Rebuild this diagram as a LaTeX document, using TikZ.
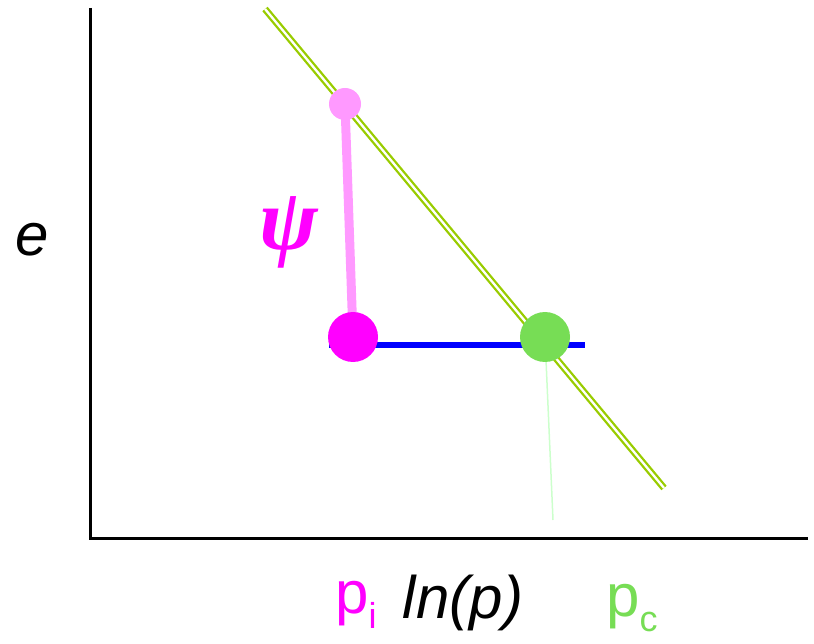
\documentclass[tikz,border=0pt]{standalone}
\usepackage{fontspec}
\setmainfont{Liberation Sans}
\newfontfamily\psifont{Liberation Serif}
\usetikzlibrary{backgrounds}

\definecolor{palepink}{HTML}{FF99FF}
\definecolor{ptmagenta}{HTML}{FF00FF}
\definecolor{dotgreen}{HTML}{77DD55}
\definecolor{linegreen}{HTML}{99CC00}
\definecolor{faintgreen}{HTML}{CCFFCC}

\begin{document}
\begin{tikzpicture}[x=1pt, y=-1pt,
    dot/.style={circle, inner sep=0pt, minimum size=#1},
    big/.style={font=\fontsize{60}{70}\selectfont}]
    \useasboundingbox (0,0) rectangle (814,644);

    % Axes
    \draw[line width=3] (90,8) -- (90,538) -- (808,538);
    \node[big] (elabel) at (32,240) {\itshape e};
    \node[big] (lnlabel) at (463,603) {\itshape ln(p)};

    % Dots
    \node[dot=32, fill=palepink] (top) at (345,104) {};
    \node[dot=50, fill=ptmagenta] (pi) at (353,337) {};
    \node[dot=50, fill=dotgreen] (pc) at (545,337) {};
    \coordinate (bleft) at (329,345);
    \coordinate (bright) at (585,345);
    \coordinate (cfoot) at (553,520);
    \coordinate (ltop) at (265,9);
    \coordinate (lbot) at (664,488);

    \begin{pgfonlayer}{background}
        % Double line
        \draw[linegreen, line width=2.3, double=white, double distance=2.3] (ltop) -- (lbot);
        % Connectors
        \draw[palepink, line width=9] (top.center) -- (pi.center);
        \draw[blue, line width=6] (bleft) -- (bright);
        \draw[faintgreen, line width=1.5] (pc.center) -- (cfoot);
    \end{pgfonlayer}

    % Labels
    \node[font=\fontsize{88}{90}\selectfont\psifont\bfseries\itshape, text=ptmagenta] (psi) at (289,232) {ψ};
    \node[big, text=ptmagenta] (pilabel) at (356,605) {p\raisebox{-0.25em}{\fontsize{36}{40}\selectfont i}};
    \node[big, text=dotgreen] (pclabel) at (632,608) {p\raisebox{-0.25em}{\fontsize{36}{40}\selectfont c}};
\end{tikzpicture}
\end{document}
